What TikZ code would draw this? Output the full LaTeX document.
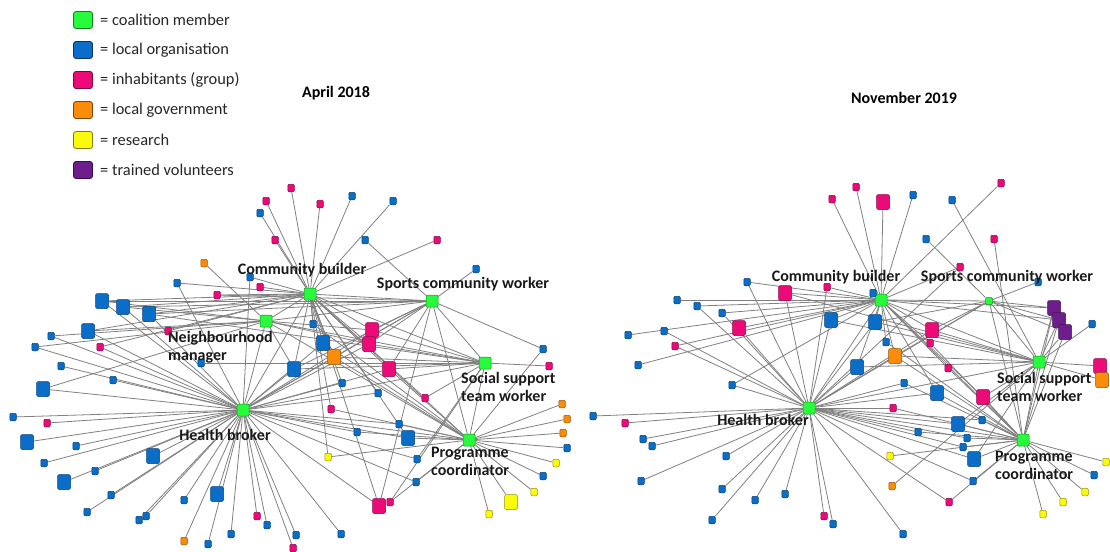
\documentclass[tikz,border=0pt]{standalone}
\usepackage{fontspec}
\setmainfont{Carlito}
\pgfdeclarelayer{bgl}
\pgfsetlayers{bgl,main}
\definecolor{cgreen}{RGB}{40,250,60}
\definecolor{cblue}{RGB}{10,110,200}
\definecolor{cpink}{RGB}{235,10,120}
\definecolor{corange}{RGB}{250,140,10}
\definecolor{cyellow}{RGB}{250,250,10}
\definecolor{cpurple}{RGB}{110,30,140}
\tikzset{
  nd/.style={draw, inner sep=0pt, line width=0.5pt, rounded corners=1.2pt},
  sm/.style={nd, minimum width=6.5pt, minimum height=7.5pt},
  lg/.style={nd, minimum width=13pt, minimum height=15pt, rounded corners=2pt},
  sb/.style={sm, fill=cblue, draw=cblue!60!black},
  sp/.style={sm, fill=cpink, draw=cpink!60!black},
  so/.style={sm, fill=corange, draw=corange!60!black},
  sy/.style={sm, fill=cyellow, draw=cyellow!60!black},
  lb/.style={lg, fill=cblue, draw=cblue!60!black},
  lp/.style={lg, fill=cpink, draw=cpink!60!black},
  lo/.style={lg, fill=corange, draw=corange!60!black},
  ly/.style={lg, fill=cyellow, draw=cyellow!60!black},
  lu/.style={lg, fill=cpurple, draw=cpurple!60!black},
  hub/.style={nd, minimum size=12pt, fill=cgreen, draw=cgreen!55!black},
  hubsm/.style={nd, minimum size=7pt, fill=cgreen, draw=cgreen!55!black},
  lnk/.style={draw=black!50, line width=0.8pt},
  lab/.style={font=\fontsize{16}{18}\selectfont\bfseries, inner sep=0pt, text=black!90},
  ttl/.style={font=\fontsize{16}{18}\selectfont\bfseries, inner sep=0pt},
  legsq/.style={nd, minimum width=19pt, minimum height=17pt, rounded corners=2.5pt, line width=0.8pt},
  legtx/.style={font=\fontsize{16.4}{18}\selectfont, inner sep=0pt, anchor=west, text=black!85},
}
\begin{document}
\begin{tikzpicture}[x=1pt,y=-1pt]
\useasboundingbox (0,0) rectangle (1110,551);

% ---------------- legend ----------------
\node[legsq, fill=cgreen, draw=cgreen!50!black] (k1) at (83,20) {};
\node[legsq, fill=cblue, draw=cblue!50!black] (k2) at (83,50) {};
\node[legsq, fill=cpink, draw=cpink!50!black] (k3) at (83,80) {};
\node[legsq, fill=corange, draw=corange!50!black] (k4) at (83,110) {};
\node[legsq, fill=cyellow, draw=cyellow!50!black] (k5) at (83,140) {};
\node[legsq, fill=cpurple, draw=cpurple!50!black] (k6) at (83,170) {};
\node[legtx] (t1) at (100,20) {= coalition member};
\node[legtx] (t2) at (100,50) {= local organisation};
\node[legtx] (t3) at (100,80) {= inhabitants (group)};
\node[legtx] (t4) at (100,110) {= local government};
\node[legtx] (t5) at (100,140) {= research};
\node[legtx] (t6) at (100,170) {= trained volunteers};

% ---------------- titles ----------------
\node[ttl] (ta) at (336,93) {April 2018};
\node[ttl] (tb) at (904,98) {November 2019};

% ---------------- left network: hubs ----------------
\node[hub] (aCB) at (310,294) {};
\node[hub] (aSC) at (432,301) {};
\node[hub] (aNM) at (266,321) {};
\node[hub] (aSS) at (485,363) {};
\node[hub] (aHB) at (243,410) {};
\node[hub] (aPC) at (469,440) {};

\foreach \n/\x/\y/\s in {
 a1/291/188/sp, a2/266/201/sp, a3/260/213/sb, a4/320/204/sp, a5/352/196/sb,
 a6/393/201/sb, a7/275/240/sp, a8/365/240/sb, a9/437/240/sp, a10/476/269/sb,
 a11/204/263/so, a12/250/277/sb, a13/177/283/sb, a14/260/287/sp, a15/217/295/sp,
 a16/102/301/lb, a17/123/307/lb, a18/149/314/lb, a19/88/331/lb, a20/168/331/sp,
 a21/51/336/sb, a22/35/347/sb, a23/100/347/sp, a24/61/366/sb, a25/201/363/sb,
 a26/113/380/sb, a27/43/389/lb, a28/13/417/sb, a29/47/423/sp, a30/27/442/lb,
 a31/76/446/sb, a32/153/456/lb, a33/44/463/sb, a34/95/471/sb, a35/64/482/lb,
 a36/111/495/sb, a37/217/494/lb, a38/184/500/sb, a39/87/512/sb, a40/146/516/sb,
 a41/139/520/sb, a42/257/516/sp, a43/267/525/sb, a44/231/534/sb, a45/184/541/so,
 a46/208/544/sb, a47/296/535/sb, a48/293/548/sp, a49/341/534/sb, a50/379/506/lp,
 a51/390/502/sp, a52/416/482/sb, a53/417/459/sb, a54/328/457/sy, a55/408/438/lb,
 a56/399/424/sb, a57/357/432/sb, a58/562/404/so, a59/567/419/so, a60/563/433/so,
 a61/567/448/sb, a62/556/463/sy, a63/543/476/sb, a64/534/492/sy, a65/511/502/ly,
 a66/489/514/sy, a67/543/349/sb, a68/549/366/sp, a69/425/398/sp, a70/331/409/sp,
 a71/378/393/sb, a72/342/383/sb, a73/389/369/lp, a74/372/330/lp, a75/369/344/lp,
 a76/334/357/lo, a77/323/343/lb, a78/313/324/sb, a79/294/369/lb}
 \node[\s] (\n) at (\x,\y) {};

% ---------------- right network: hubs ----------------
\node[hub] (bCB) at (881,300) {};
\node[hubsm] (bSC) at (989,301) {};
\node[hub] (bHB) at (809,408) {};
\node[hub] (bSS) at (1039,362) {};
\node[hub] (bPC) at (1023,440) {};

\foreach \n/\x/\y/\s in {
 b1/856/187/sp, b2/832/199/sp, b3/883/202/lp, b4/913/195/sb, b5/1001/183/sp,
 b6/952/200/sb, b7/926/239/sb, b8/994/239/sp, b9/960/267/sp, b10/1038/282/sb,
 b11/873/293/sb, b12/1054/308/lu, b13/1059/320/lu, b14/1065/332/lu, b15/1092/324/sb,
 b16/1100/366/lp, b17/1102/380/lo, b18/747/282/sb, b19/785/293/lp, b20/827/287/sp,
 b21/677/300/sb, b22/697/306/sb, b23/722/313/sb, b24/831/320/lb, b25/739/328/lp,
 b26/628/335/sb, b27/664/331/sb, b28/675/346/sp, b29/638/365/sb, b30/732/385/sb,
 b31/593/416/sb, b32/625/423/sp, b33/643/439/sb, b34/652/446/sb, b35/726/456/sb,
 b36/641/481/sb, b37/722/489/sb, b38/755/500/sb, b39/785/494/sb, b40/712/520/sb,
 b41/824/516/sp, b42/833/524/sb, b43/903/534/sb, b44/875/322/lb, b45/886/342/sb,
 b46/895/356/lo, b47/932/330/lp, b48/930/343/sp, b49/857/367/lb, b50/948/368/sp,
 b51/904/383/sb, b52/937/393/lb, b53/983/397/lp, b54/893/408/sp, b55/958/424/lb,
 b56/982/420/sb, b57/918/432/sb, b58/967/438/sb, b59/963/447/sb, b60/974/459/lb,
 b61/890/456/sy, b62/973/481/sb, b63/892/486/so, b64/949/502/sp, b65/1106/462/sy,
 b66/1094/475/sb, b67/1085/492/sy, b68/1063/502/sy, b69/1043/514/sy}
 \node[\s] (\n) at (\x,\y) {};

% ---------------- connectors ----------------
\begin{pgfonlayer}{bgl}
% left
\foreach \p in {a1,a2,a3,a4,a5,a6,a7,a9,a12,a13,a14,a15,a16,a17,a18,a19,a20,a23,a50,a54,a55,a69,a70,a71,a72,a73,a74,a75,a76,a77,a78,a79}
  \draw[lnk] (aCB) -- (\p);
\foreach \p in {a8,a10,a67,a15,a16,a17,a18,a74,a75,a76,a73,a50,a79}
  \draw[lnk] (aSC) -- (\p);
\foreach \p in {a11,a16,a17,a19,a21,a22,a27,a79,a74,a75}
  \draw[lnk] (aNM) -- (\p);
\foreach \p in {a12,a13,a16,a17,a18,a19,a21,a22,a23,a24,a26,a27,a28,a29,a30,a31,a32,a33,a34,a35,a36,a37,a38,a39,a40,a41,a42,a43,a44,a45,a46,a47,a48,a49,a50,a52,a53,a55,a56,a57,a71,a72,a73,a74,a75,a76,a77,a79}
  \draw[lnk] (aHB) -- (\p);
\foreach \p in {a25,a68,a73,a74,a75,a76,a79,a53,a69,a51,a18}
  \draw[lnk] (aSS) -- (\p);
\foreach \p in {a58,a59,a60,a61,a62,a63,a64,a65,a66,a67,a51,a52,a54,a55,a56,a57,a70,a73,a76,a77,a78}
  \draw[lnk] (aPC) -- (\p);
\foreach \a/\b in {aCB/aSC,aCB/aNM,aCB/aHB,aCB/aSS,aCB/aPC,aSC/aSS,aSC/aPC,aSC/aHB,aSC/aNM,aNM/aHB,aNM/aSS,aHB/aSS,aHB/aPC,aSS/aPC,aNM/aPC}
  \draw[lnk] (\a) -- (\b);
% right
\foreach \p in {b1,b2,b3,b4,b5,b11,b12,b13,b18,b19,b20,b21,b22,b23,b24,b25,b26,b28,b29,b30,b44,b45,b46,b47,b48,b49,b50,b52,b53,b9}
  \draw[lnk] (bCB) -- (\p);
\foreach \p in {b7,b10,b12,b13,b14,b46,b47,b44}
  \draw[lnk] (bSC) -- (\p);
\foreach \p in {b6,b12,b13,b14,b15,b16,b17,b44,b46,b47,b49,b53,b55,b60,b63,b24,b19}
  \draw[lnk] (bSS) -- (\p);
\foreach \p in {b18,b19,b20,b22,b23,b24,b25,b27,b28,b30,b31,b32,b33,b34,b35,b36,b37,b38,b39,b40,b41,b42,b43,b44,b46,b47,b49,b51,b52,b54,b55,b56,b57,b58,b59,b60,b62,b64,b9}
  \draw[lnk] (bHB) -- (\p);
\foreach \p in {b8,b14,b45,b46,b48,b50,b51,b52,b53,b54,b55,b56,b57,b58,b59,b60,b61,b62,b64,b65,b66,b67,b68,b69,b12,b13}
  \draw[lnk] (bPC) -- (\p);
\foreach \a/\b in {bCB/bSC,bCB/bHB,bCB/bSS,bCB/bPC,bSC/bSS,bSC/bPC,bSC/bHB,bHB/bSS,bHB/bPC,bSS/bPC}
  \draw[lnk] (\a) -- (\b);
\end{pgfonlayer}

% ---------------- hub labels ----------------
\node[lab] (la1) at (302,270) {Community builder};
\node[lab] (la2) at (463,284) {Sports community worker};
\node[lab, anchor=west, align=left] (la3) at (168,347) {Neighbourhood\\manager};
\node[lab, anchor=west, align=left] (la4) at (461,387) {Social support\\team worker};
\node[lab] (la5) at (225,435) {Health broker};
\node[lab, anchor=west, align=left] (la6) at (431,461) {Programme\\coordinator};

\node[lab] (lb1) at (836,277) {Community builder};
\node[lab] (lb2) at (1007,277) {Sports community worker};
\node[lab] (lb5) at (763,420) {Health broker};
\node[lab, anchor=west, align=left] (lb4) at (997,387) {Social support\\team worker};
\node[lab, anchor=west, align=left] (lb6) at (995,465) {Programme\\coordinator};
\end{tikzpicture}
\end{document}
